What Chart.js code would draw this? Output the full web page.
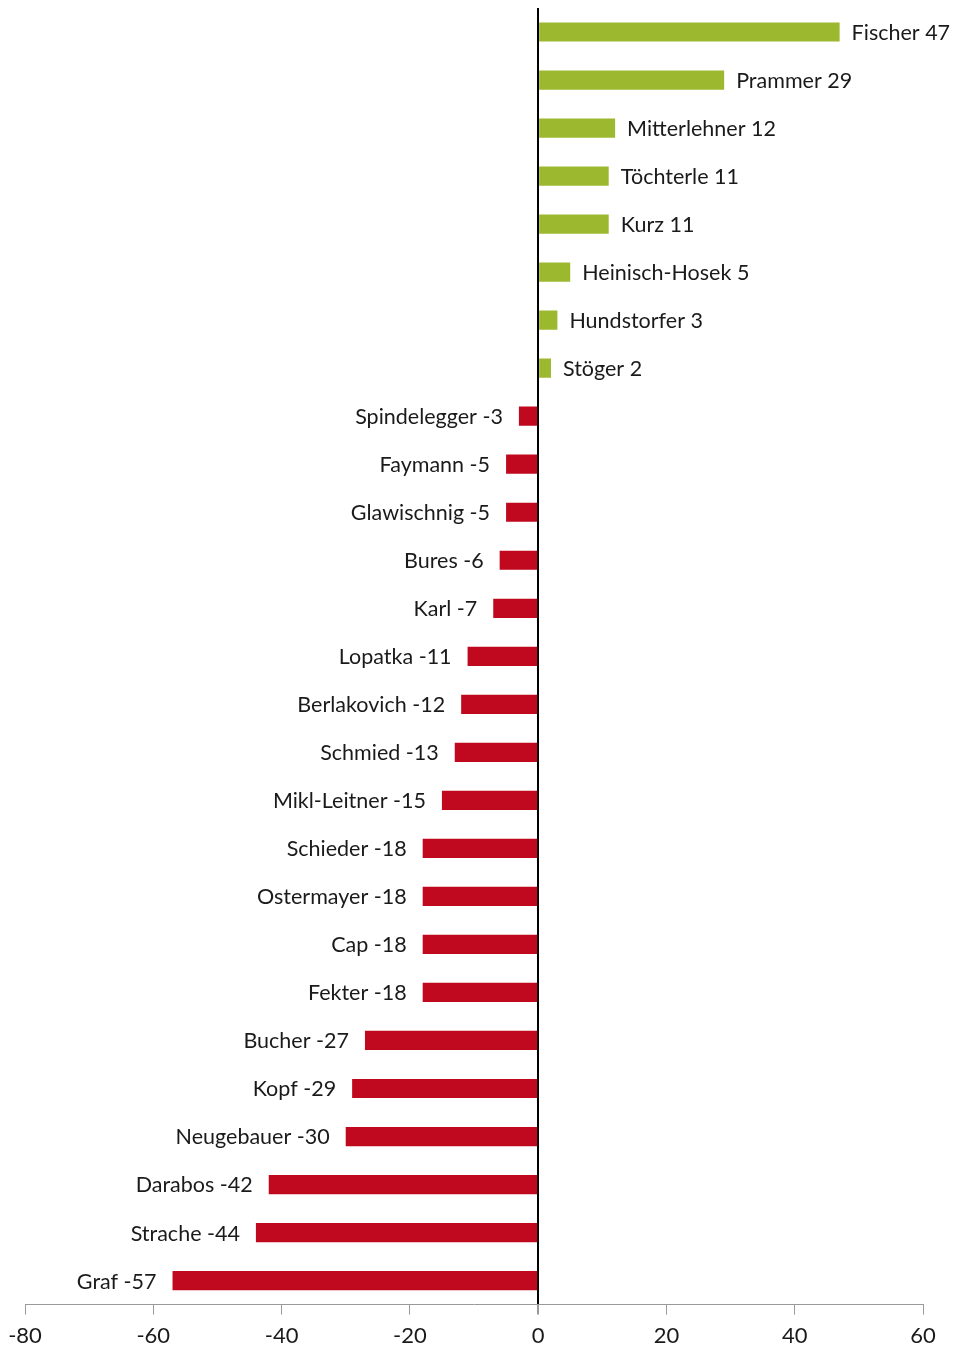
<!DOCTYPE html>
<html>
<head>
<meta charset="utf-8">
<script src="https://cdn.jsdelivr.net/npm/chart.js@4.4.1/dist/chart.umd.min.js"></script>
<style>
  html, body { margin: 0; padding: 0; background: #fff; overflow: hidden; }
  #wrap { width: 959px; height: 1357px; position: relative; }
</style>
</head>
<body>
<div id="wrap"><canvas id="chart"></canvas></div>
<script>
const namen = ["Fischer", "Prammer", "Mitterlehner", "Töchterle", "Kurz", "Heinisch-Hosek", "Hundstorfer", "Stöger",
  "Spindelegger", "Faymann", "Glawischnig", "Bures", "Karl", "Lopatka", "Berlakovich", "Schmied", "Mikl-Leitner",
  "Schieder", "Ostermayer", "Cap", "Fekter", "Bucher", "Kopf", "Neugebauer", "Darabos", "Strache", "Graf"];
const werte = [47, 29, 12, 11, 11, 5, 3, 2, -3, -5, -5, -6, -7, -11, -12, -13, -15, -18, -18, -18, -18, -27, -29, -30, -42, -44, -57];
const achsenTicks = [-80, -60, -40, -20, 0, 20, 40, 60];

const GRUEN = "#9bb82e";
const ROT = "#c0081f";
const schrift = "Lato, 'Open Sans', sans-serif";

// Beschriftung neben jedem Balken
const balkenLabels = {
  id: "balkenLabels",
  afterDatasetsDraw(chart) {
    const ctx = chart.ctx;
    const meta = chart.getDatasetMeta(0);
    ctx.save();
    ctx.font = "21.5px " + schrift;
    ctx.fillStyle = "#1a1a1a";
    ctx.textBaseline = "middle";
    meta.data.forEach((bar, i) => {
      const v = werte[i];
      const txt = namen[i] + " " + v;
      if (v >= 0) {
        ctx.textAlign = "left";
        ctx.fillText(txt, bar.x + 12, bar.y + 1);
      } else {
        ctx.textAlign = "right";
        ctx.fillText(txt, bar.x - 16, bar.y + 1);
      }
    });
    ctx.restore();
  }
};

new Chart(document.getElementById("chart"), {
  type: "bar",
  data: {
    labels: namen,
    datasets: [{
      data: werte,
      backgroundColor: werte.map(v => v >= 0 ? GRUEN : ROT),
      barPercentage: 0.8,
      categoryPercentage: 0.5
    }]
  },
  options: {
    indexAxis: "y",
    responsive: true,
    maintainAspectRatio: false,
    animation: false,
    layout: { padding: { left: 25, right: 36, top: 8, bottom: 0 } },
    plugins: {
      legend: { display: false },
      tooltip: { enabled: false }
    },
    scales: {
      x: {
        min: -80,
        max: 60,
        afterBuildTicks: (scale) => { scale.ticks = achsenTicks.map(v => ({ value: v })); },
        grid: {
          color: (c) => c.tick && c.tick.value === 0 ? "#000" : "rgba(0,0,0,0)",
          lineWidth: (c) => c.tick && c.tick.value === 0 ? 2 : 1,
          tickColor: "#9a9a9a",
          tickLength: 10,
          drawOnChartArea: true
        },
        border: { display: true, color: "#9a9a9a", width: 1 },
        ticks: {
          padding: 8,
          color: "#1a1a1a",
          font: { family: schrift, size: 22 }
        }
      },
      y: {
        display: false
      }
    }
  },
  plugins: [balkenLabels]
});
</script>
</body>
</html>
